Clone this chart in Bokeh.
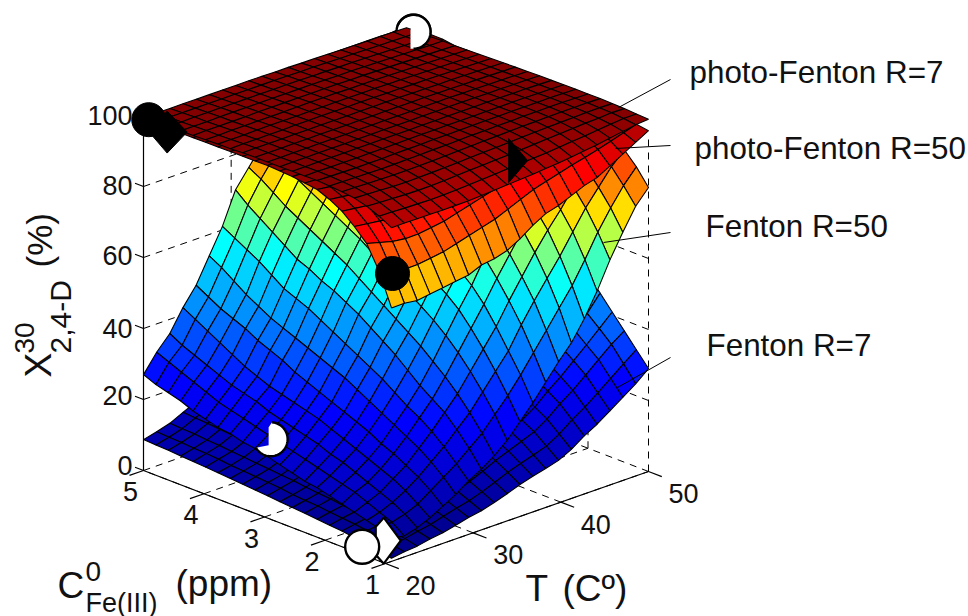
import numpy as np
from bokeh.plotting import figure
from bokeh.models import Range1d
from bokeh.core.properties import value
from bokeh.embed import file_html
from bokeh.resources import INLINE

FONT = "Liberation Sans"
W, H = 968, 616

T_TICKS = [20, 30, 40, 50]
FE_TICKS = [1, 2, 3, 4, 5]
Z_TICKS = [0, 20, 40, 60, 80, 100]
T_MIN, T_MAX, FE_MIN, FE_MAX = 20, 50, 1, 5

# rows run T = 20..50, columns run Fe = 1..5
FENTON_R7 = [
[1.5,2.2,2.9,3.4,3.9,4.2,4.6,5.0,5.3,5.6,6.0,6.3,6.6,6.9,7.2,7.5,7.8,8.0,8.3,8.5,8.7],
[2.0,2.7,3.5,4.0,4.5,4.9,5.3,5.7,6.0,6.3,6.8,7.1,7.4,7.7,8.0,8.4,8.7,8.9,9.2,9.4,9.6],
[2.3,3.1,3.9,4.5,5.1,5.5,5.9,6.4,6.7,7.1,7.6,7.9,8.3,8.6,9.0,9.3,9.7,9.9,10.3,10.5,10.7],
[3.0,3.9,4.8,5.5,6.2,6.6,7.1,7.6,8.0,8.4,8.9,9.3,9.7,10.1,10.5,10.9,11.3,11.6,12.0,12.2,12.5],
[3.5,4.5,5.6,6.3,7.1,7.5,8.1,8.7,9.2,9.6,10.2,10.7,11.1,11.5,12.0,12.4,12.9,13.2,13.6,13.9,14.2],
[4.3,5.5,6.7,7.5,8.4,8.9,9.5,10.2,10.7,11.2,11.9,12.4,12.9,13.4,13.9,14.4,14.9,15.3,15.8,16.1,16.5],
[5.2,6.5,7.9,8.8,9.8,10.3,11.1,11.9,12.4,13.0,13.8,14.3,14.9,15.5,16.0,16.6,17.2,17.6,18.1,18.5,18.9],
[5.8,7.3,8.8,9.9,10.9,11.6,12.4,13.3,13.9,14.6,15.4,16.0,16.7,17.4,18.0,18.6,19.3,19.7,20.4,20.8,21.2],
[6.8,8.5,10.1,11.3,12.5,13.3,14.2,15.2,15.9,16.6,17.6,18.3,19.0,19.7,20.4,21.1,21.9,22.3,23.0,23.5,24.0],
[8.0,9.9,11.7,13.1,14.4,15.2,16.2,17.3,18.1,18.9,20.0,20.8,21.6,22.4,23.2,24.0,24.8,25.3,26.1,26.6,27.2],
[9.3,11.4,13.4,14.9,16.4,17.2,18.4,19.6,20.5,21.4,22.5,23.4,24.3,25.2,26.0,26.9,27.8,28.4,29.3,29.9,30.5],
[10.3,12.6,14.8,16.5,18.1,19.1,20.3,21.6,22.6,23.6,24.9,25.9,26.8,27.8,28.8,29.7,30.7,31.4,32.3,33.0,33.6],
[11.2,13.7,16.2,18.0,19.7,20.8,22.2,23.7,24.7,25.8,27.2,28.3,29.4,30.4,31.5,32.6,33.6,34.3,35.4,36.1,36.8],
[12.2,14.9,17.6,19.6,21.5,22.7,24.2,25.8,26.9,28.1,29.7,30.8,32.0,33.2,34.3,35.5,36.6,37.4,38.6,39.4,40.1],
[14.0,17.0,19.9,22.0,24.1,25.4,27.1,28.8,30.0,31.3,33.0,34.3,35.5,36.8,38.1,39.3,40.6,41.4,42.7,43.5,44.4],
[16.5,19.7,22.9,25.2,27.5,28.8,30.7,32.5,33.9,35.2,37.1,38.4,39.8,41.2,42.5,43.9,45.3,46.2,47.6,48.5,49.4],
[18.5,22.0,25.4,27.9,30.4,31.8,33.8,35.8,37.3,38.8,40.7,42.2,43.7,45.2,46.7,48.1,49.6,50.6,52.1,53.1,54.0],
[21.0,24.7,28.4,31.1,33.7,35.3,37.5,39.6,41.2,42.8,44.9,46.5,48.1,49.7,51.3,52.9,54.5,55.5,57.1,58.2,59.2],
[23.5,27.5,31.5,34.3,37.2,38.9,41.2,43.5,45.2,46.9,49.2,50.9,52.6,54.3,56.0,57.7,59.4,60.6,62.3,63.4,64.5],
[26.0,30.3,34.5,37.6,40.6,42.4,44.9,47.3,49.1,51.0,53.4,55.2,57.0,58.9,60.7,62.5,64.4,65.6,67.4,68.6,69.8],
[29.0,33.0,37.0,41.0,45.0,49.0,52.0,55.0,58.0,60.0,62.0,64.0,66.0,67.5,69.0,70.5,72.0,73.0,74.0,75.0,76.0],
]

FENTON_R50 = [
[7,8.5,9.5,10.5,11.5,12.5,13.5,14,15,16,17,18,18.5,19.5,20,21,22,23.5,24.5,25.5,27],
[6.5,9,10.5,12,13.5,14.5,15.5,16.5,17.5,18.5,19.5,20.5,21.5,22.5,23.5,24.5,26,27.5,29,30.5,32],
[7.5,10,12,13.5,15,16.5,18,19,20.5,21.5,22.5,23.5,24.5,26,27,28,29.5,31,32.5,34,36],
[9,11.5,14,16,17.5,19,20.5,22,23.5,25,26,27,28,29,30.5,32,34,36,38,40,42],
[11,14,16.5,18.5,20.5,22,24,25.5,27,28.5,30,31.5,33,35,36.5,38,40,41.5,43,45,47],
[13,16.5,19.5,22,24,26,28,30,32,34,35.5,37,38.5,40,41.5,43,45,47,49.5,52,54],
[15.5,19,22.5,25.5,28,30,32.5,35,37,39,41,43,45,47,48.5,50,52.5,55,57,59,61],
[17.5,22,26,29.5,32,34.5,37.5,40.5,43,45.5,48,50,52,53.5,55.5,57,59.5,62,64.5,67,70],
[20,25,29.5,33.5,37,40,43,45.5,48,50.5,53,55.5,58,60,62,64,66,68,70.5,73,75],
[23,29,34,38.5,42.5,46,49,51.5,54,56.5,59,61.5,64,66,68,70,72,74,76,78,80],
[27,33,38.5,43.5,48,52,55,57.5,60,62.5,65,67.5,70,72,74,76,77.5,79,81,82.5,84],
[31,37.5,43,48.5,53.5,57.5,60.5,63,65.5,68,70,72,74,76.5,79,81,82.5,84,85.5,87,88],
[35.5,42.5,49,54.5,59.5,64,66.5,69,71,73,75,77,79,81,83,85,86,87,88.5,89.5,90.5],
[40,47.5,54.5,60,65,69.5,71.5,73.5,75.5,77.5,79.5,81.5,83.5,85,87,88.5,89.5,90.5,91,92,92.5],
[44,52.5,59.5,65.5,70.5,75,76.5,78,80,82,83.5,85.5,87.5,89,90.5,91.5,92,92.5,93.5,94,94.5],
[49.5,57.5,64.5,70.5,75,79,80.5,82,83.5,85.5,87,88.5,90,91.5,93,94,94.5,95,95.5,95.5,96],
[56,63.5,70,75,79.5,83,84.5,86,87.5,89,90,91,92.5,93.5,94.5,95.5,96,96,96.5,96.5,97],
[63.5,70,75.5,80,83,86,87,88,89.5,91,92,93,94,95,96,97,97,97.5,97.5,98,98],
[70,75.5,80,84,87,89,90,91,92,93,94,95,96,96.5,97.5,98,98,98,98.5,98.5,98.5],
[76,80.5,84.5,87.5,89.5,91,92,93,94,95,96,96.5,97,97.5,98,98.5,98.5,99,99,99,99],
[80,84.5,88,90,92,93,94,95,95.5,96.5,97,97.5,98,98.5,99,99,99,99.5,99.5,99.5,99.5],
]

PHOTO_R50 = [
[72,81,87.5,91,94,96,97.5,98,98.5,98.8,99,99,99,99,99,99,99,99,99,99,99],
[72,80,86.5,90.5,93.5,95.5,97,97.8,98.4,98.8,99,99,99,99,99,99,99,99,99,99,99],
[71.5,79,85.5,90,93,95,96.7,97.6,98.2,98.7,99,99,99,99,99,99,99,99,99,99,99],
[72,79,85,89.5,92.5,94.7,96.4,97.4,98.1,98.6,98.9,99,99,99,99,99,99,99,99,99,99],
[72.5,79.5,85,89,92,94.5,96.2,97.3,98,98.5,98.8,99,99,99,99,99,99,99,99,99,99],
[73,80,85.5,89,92,94.5,96,97.2,98,98.5,98.8,99,99,99,99,99,99,99,99,99,99],
[73.5,81,86,89.5,92.3,94.6,96.1,97.2,98,98.5,98.8,99,99,99,99,99,99,99,99,99,99],
[75,82,87,90.5,93,95,96.4,97.4,98.1,98.6,98.9,99,99,99,99,99,99,99,99,99,99],
[75.5,83,88,91,93.5,95.3,96.6,97.5,98.2,98.7,98.9,99,99,99,99,99,99,99,99,99,99],
[76.5,84,89,92,94,95.7,96.9,97.7,98.3,98.7,98.9,99,99,99,99,99,99,99,99,99,99],
[78.5,85.5,90,93,94.7,96.1,97.1,97.9,98.4,98.8,99,99,99,99,99,99,99,99,99,99,99],
[81,87,91,93.7,95.3,96.5,97.4,98,98.5,98.8,99,99,99,99,99,99,99,99,99,99,99],
[83,88.5,92,94.3,95.8,96.9,97.7,98.2,98.6,98.9,99,99,99,99,99,99,99,99,99,99,99],
[84,89.5,92.8,94.9,96.2,97.2,97.9,98.3,98.7,98.9,99,99,99,99,99,99,99,99,99,99,99],
[85.5,90.5,93.5,95.4,96.6,97.5,98.1,98.5,98.8,99,99,99,99,99,99,99,99,99,99,99,99],
[87,91.5,94.2,95.8,96.9,97.7,98.2,98.6,98.8,99,99,99,99,99,99,99,99,99,99,99,99],
[88,92.3,94.8,96.2,97.2,97.9,98.4,98.7,98.9,99,99,99,99,99,99,99,99,99,99,99,99],
[90,93.3,95.3,96.6,97.5,98.1,98.5,98.7,98.9,99,99,99,99,99,99,99,99,99,99,99,99],
[92,94.3,95.9,97,97.7,98.2,98.5,98.7,98.8,98.9,99,99,99,99,99,99,99,99,99,99,99],
[94,95.4,96.5,97.3,97.9,98.2,98.5,98.6,98.7,98.8,98.8,98.8,98.8,98.8,98.8,98.8,98.8,98.8,98.8,98.8,98.8],
[96,96.5,97,97.4,97.8,98,98.2,98.3,98.4,98.5,98.5,98.5,98.5,98.5,98.5,98.5,98.5,98.5,98.5,98.5,98.5],
]

PHOTO_R7 = [
[94.6,96.5,98.0,99.0,99.5,99.8,100,100,100,100,100,100,100,99.8,99.8,99.7,99.6,99.6,99.5,99.5,99.4],
[94.6,96.4,97.8,98.8,99.4,99.7,99.9,100,100,100,100,100,100,99.9,99.8,99.7,99.7,99.6,99.5,99.5,99.4],
[94.5,96.2,97.6,98.6,99.2,99.6,99.8,99.9,100,100,100,100,100,99.9,99.8,99.8,99.7,99.6,99.6,99.5,99.4],
[94.5,96.1,97.4,98.4,99.1,99.5,99.7,99.9,100,100,100,100,100,99.9,99.9,99.8,99.7,99.7,99.6,99.5,99.4],
[94.4,96.0,97.3,98.3,99.0,99.4,99.7,99.9,100,100,100,100,100,99.9,99.9,99.8,99.7,99.7,99.6,99.5,99.4],
[94.4,96.0,97.3,98.3,99.0,99.4,99.7,99.9,100,100,100,100,100,100,99.9,99.8,99.8,99.7,99.6,99.5,99.4],
[94.4,96.1,97.4,98.4,99.0,99.5,99.8,99.9,100,100,100,100,100,100,99.9,99.8,99.8,99.7,99.6,99.5,99.4],
[94.6,96.3,97.6,98.5,99.1,99.5,99.8,99.9,100,100,100,100,100,100,99.9,99.9,99.8,99.7,99.6,99.5,99.4],
[94.8,96.5,97.8,98.6,99.2,99.6,99.8,100,100,100,100,100,100,100,99.9,99.9,99.8,99.7,99.6,99.5,99.4],
[95.0,96.7,97.9,98.8,99.3,99.6,99.9,100,100,100,100,100,100,100,99.9,99.9,99.8,99.7,99.6,99.5,99.4],
[95.2,96.9,98.1,98.9,99.4,99.7,99.9,100,100,100,100,100,100,100,99.9,99.9,99.8,99.7,99.6,99.5,99.3],
[95.4,97.1,98.2,99.0,99.5,99.8,99.9,100,100,100,100,100,100,100,99.9,99.8,99.8,99.7,99.5,99.4,99.3],
[95.7,97.3,98.4,99.1,99.6,99.8,100,100,100,100,100,100,100,99.9,99.9,99.8,99.7,99.6,99.5,99.4,99.2],
[96.0,97.5,98.6,99.3,99.7,99.9,100,100,100,100,100,100,99.9,99.9,99.8,99.8,99.7,99.6,99.4,99.3,99.2],
[96.4,97.8,98.8,99.4,99.8,99.9,100,100,100,100,100,99.9,99.9,99.8,99.8,99.7,99.6,99.5,99.4,99.2,99.1],
[96.8,98.1,99.0,99.5,99.8,100,100,100,100,100,99.9,99.9,99.8,99.8,99.7,99.6,99.5,99.4,99.3,99.2,99.0],
[97.2,98.4,99.2,99.6,99.9,100,100,100,100,99.9,99.9,99.8,99.8,99.7,99.6,99.5,99.4,99.3,99.2,99.1,99.0],
[97.8,98.8,99.4,99.7,99.9,100,100,100,99.9,99.9,99.8,99.8,99.7,99.6,99.5,99.4,99.3,99.2,99.1,99.0,98.9],
[98.4,99.1,99.5,99.8,99.9,100,100,99.9,99.9,99.8,99.8,99.7,99.6,99.5,99.4,99.3,99.2,99.1,99.0,99.0,98.9],
[99.0,99.4,99.7,99.8,99.9,99.9,99.9,99.9,99.8,99.8,99.7,99.6,99.5,99.4,99.3,99.2,99.1,99.0,99.0,98.9,98.9],
[99.2,99.4,99.6,99.7,99.8,99.8,99.8,99.8,99.7,99.7,99.6,99.5,99.4,99.3,99.2,99.1,99.0,99.0,98.9,98.9,98.8],
]

# markers: T, Fe, X
BLACK_DISC = [(20.6, 5.0, 98.3), (20.8, 1.0, 81.0)]
BLACK_DIAMOND = (22.7, 5.0, 93.0)
BLACK_HALF = (37.5, 1.5, 95.1)
WHITE_MOON = (20.7, 3.0, 21.3)
WHITE_DISC = (20.1, 1.4, 2.0)
WHITE_DIAMOND = (19.8, 1.0, 6.6)
WHITE_TOP = (50.8, 5.0, 97.0)

SERIES_LABELS = ["photo-Fenton R=7", "photo-Fenton R=50", "Fenton R=50", "Fenton R=7"]


def proj(t, fe, z, front=0.0):
    """Oblique view of the (T, Fe, X) box, in page pixels."""
    a = (np.asarray(t, float) - T_MIN) / (T_MAX - T_MIN)
    b = (np.asarray(fe, float) - FE_MIN) / (FE_MAX - FE_MIN)
    x = 385 + 263 * a - 242 * b + front * (1 - a) * (1 - b)
    y = 563 - 92 * a - 93 * b - 3.55 * np.asarray(z, float)
    return x, y


STOPS_Z = [0, 24, 52, 68, 74, 87, 100]
STOPS_P = [0, .125, .375, .625, .72, .875, 1]


def jet(z):
    p = np.interp(z, STOPS_Z, STOPS_P)
    r = np.clip(min(4 * p - 1.5, -4 * p + 4.5), 0, 1)
    g = np.clip(min(4 * p - 0.5, -4 * p + 3.5), 0, 1)
    b = np.clip(min(4 * p + 0.5, -4 * p + 2.5), 0, 1)
    return "#%02x%02x%02x" % (int(r * 255), int(g * 255), int(b * 255))


p = figure(width=W, height=H, output_backend="svg", toolbar_location=None,
           x_axis_type=None, y_axis_type=None,
           x_range=Range1d(0, W), y_range=Range1d(H, 0),
           min_border=0, outline_line_color=None)
p.grid.visible = False


def seg(p0, p1, **kw):
    x0, y0 = proj(*p0)
    x1, y1 = proj(*p1)
    p.line([float(x0), float(x1)], [float(y0), float(y1)], line_color="black", **kw)


DASH = dict(line_dash="7 6", line_width=1)
for z in Z_TICKS[1:-1]:
    seg((T_MIN, FE_MAX, z), (T_MAX, FE_MAX, z), **DASH)
    seg((T_MAX, FE_MIN, z), (T_MAX, FE_MAX, z), **DASH)
for t in T_TICKS:
    seg((t, FE_MIN, 0), (t, FE_MAX, 0), **DASH)
    seg((t, FE_MAX, 0), (t, FE_MAX, 95), **DASH)
for fe in FE_TICKS:
    seg((T_MIN, fe, 0), (T_MAX, fe, 0), **DASH)
    seg((T_MAX, fe, 0), (T_MAX, fe, 95), **DASH)

SOLID = dict(line_width=1.2)
seg((T_MIN, FE_MAX, 0), (T_MIN, FE_MAX, 100), **SOLID)
seg((T_MIN, FE_MIN, 0), (T_MIN, FE_MAX, 0), **SOLID)
seg((T_MIN, FE_MIN, 0), (T_MAX, FE_MIN, 0), **SOLID)
for t in T_TICKS:
    seg((t, FE_MIN, 0), (t, FE_MIN - 0.22, 0), **SOLID)
for fe in FE_TICKS:
    seg((T_MIN, fe, 0), (T_MIN - 1.6, fe, 0), **SOLID)
for z in Z_TICKS:
    seg((T_MIN, FE_MAX, z), (T_MIN, FE_MAX + 0.14, z), **SOLID)


def surface(table, line_width=1.1):
    z = np.array(table, float)
    nt, nf = z.shape
    ts = np.linspace(T_MIN, T_MAX, nt)
    fs = np.linspace(FE_MIN, FE_MAX, nf)
    tt, ff = np.meshgrid(ts, fs, indexing="ij")
    x, y = proj(tt, ff, z, front=6)
    xs, ys, cs = [], [], []
    for i in range(nt - 2, -1, -1):
        for j in range(nf - 2, -1, -1):
            xs.append([x[i, j], x[i + 1, j], x[i + 1, j + 1], x[i, j + 1]])
            ys.append([y[i, j], y[i + 1, j], y[i + 1, j + 1], y[i, j + 1]])
            cs.append(jet(z[i, j]))
    p.patches(xs, ys, fill_color=cs, line_color="black", line_width=line_width)


R = 17


def arc(c, a0, a1):
    ang = np.radians(np.linspace(a0, a1, 60))
    return c[0] + R * np.cos(ang), c[1] - R * np.sin(ang)


surface(FENTON_R7)
surface(FENTON_R50)
surface(PHOTO_R50)

# white marker behind the top surface
top = tuple(float(v) for v in proj(*WHITE_TOP))
p.circle([top[0]], [top[1]], radius=R, fill_color="white", line_color="black", line_width=2.4)

surface(PHOTO_R7)

ax, ay = arc(top, 75, -90)
p.patch(list(ax) + [top[0] - 3, top[0] - 3], list(ay) + [top[1] + 17, top[1] - 2],
        fill_color="white", line_color=None)
ax, ay = arc(top, 160, -90)
p.line(ax, ay, line_color="black", line_width=2.4)

# half hidden marker on the low surfaces
moon = tuple(float(v) for v in proj(*WHITE_MOON))
ax, ay = arc(moon, 85, -150)
p.patch(list(ax) + [moon[0] - 2, moon[0] - 2], list(ay) + [moon[1] + 6, moon[1] - 12],
        fill_color="white", line_color=None)
p.line(ax, ay, line_color="black", line_width=2.4)

# leader lines
LEAD_X = [[670, 618], [670, 615], [670, 603], [670, 617]]
LEAD_Y = [[79, 107], [145, 148], [232, 242], [357, 387]]
p.multi_line(LEAD_X, LEAD_Y, line_color="black", line_width=1)

# white diamond and disc at the front corner
d = tuple(float(v) for v in proj(*WHITE_DIAMOND))
p.patch([d[0] - 8, d[0], d[0] + 17, d[0], d[0] - 8],
        [d[1] - 14, d[1] - 23, d[1], d[1] + 23, d[1] + 14],
        fill_color="white", line_color="black", line_width=2.2)
dd = tuple(float(v) for v in proj(*WHITE_DISC))
p.circle([dd[0]], [dd[1]], radius=R, fill_color="white", line_color="black", line_width=2.4)

# black markers
bx, by = proj(*zip(*BLACK_DISC))
p.circle(bx, by, radius=R, fill_color="black", line_color="black")
c = tuple(float(v) for v in proj(*BLACK_DIAMOND))
p.patch([c[0], c[0] + 20, c[0], c[0] - 18], [c[1] - 21, c[1], c[1] + 21, c[1]],
        fill_color="black", line_color="black")
c = tuple(float(v) for v in proj(*BLACK_HALF))
p.patch([c[0], c[0] + 19, c[0]], [c[1] - 22, c[1], c[1] + 22],
        fill_color="black", line_color="black")


def txt(x, y, s, size, align="left", angle=0.0):
    p.text([x], [y], text=[s], text_font=value(FONT), text_font_size=f"{size}px",
           text_color="#111111", text_align=align, text_baseline="middle", angle=angle)


# tick labels
for z, y in zip(Z_TICKS, [465, 395, 328, 255, 185, 115]):
    txt(132, y, str(z), 27, "right")
for fe in FE_TICKS:
    x, y = proj(T_MIN, fe, 0)
    txt(float(x) - 13, float(y) + 21, str(fe), 27, "center")
for t in T_TICKS:
    x, y = proj(t, FE_MIN, 0)
    txt(float(x) + 35, float(y) + 22, str(t), 27, "center")

# axis titles
txt(38, 377, "X", 37, angle=np.pi / 2)
txt(24, 353, "30", 28, angle=np.pi / 2)
txt(60, 353, "2,4-D", 30, angle=np.pi / 2)
txt(39, 267, "(%)", 35, angle=np.pi / 2)
txt(57, 585, "C", 37)
txt(85, 571, "0", 28)
txt(85, 602, "Fe(III)", 27)
txt(175, 583, "(ppm)", 37)
txt(525, 588, "T", 37)
txt(562, 588, "(Cº)", 37)

# surface labels
for s, x, y in zip(SERIES_LABELS, [689, 694, 705, 706], [72, 148, 226, 345]):
    txt(x, y, s, 31.4)

open("out.html", "w").write(file_html(p, INLINE))
